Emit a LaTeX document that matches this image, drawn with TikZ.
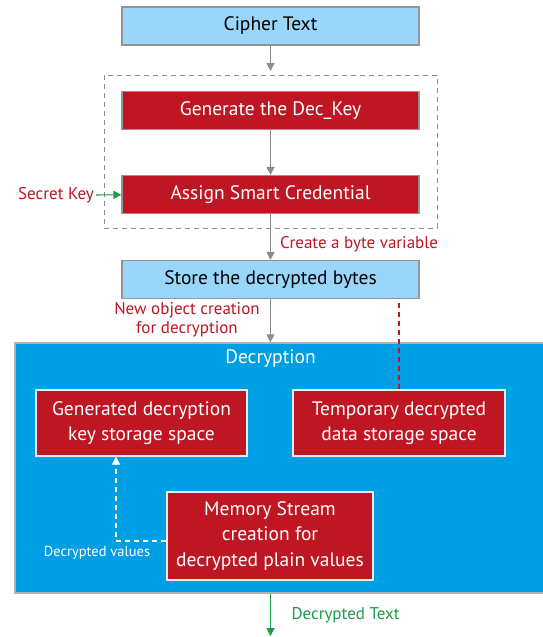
\documentclass[tikz,border=0pt]{standalone}
\usepackage{fontspec}
\setmainfont{PT Sans}
\usetikzlibrary{calc,arrows.meta}

\definecolor{skyfill}{HTML}{99D6FA}
\definecolor{keyred}{HTML}{BE1622}
\definecolor{decblue}{HTML}{009FE3}
\definecolor{flowgreen}{HTML}{1B9A4A}

\tikzset{
	skybox/.style={draw=black!42, fill=skyfill, line width=1.2pt, minimum width=297pt, minimum height=38pt, inner sep=0pt, font=\fontsize{19.5}{23}\selectfont},
	redbox/.style={skybox, fill=keyred, text=white},
	storebox/.style={draw=black!8, fill=keyred, text=white, line width=1.2pt, align=center, inner sep=0pt, font=\fontsize{19.5}{25.5}\selectfont},
	flow/.style={draw=black!45, line width=1.2pt, -{Triangle[length=8pt,width=8pt]}},
	redlabel/.style={text=keyred, font=\fontsize{17}{19}\selectfont, inner sep=2pt},
}

\begin{document}
\begin{tikzpicture}[x=1pt, y=-1pt]
		%%%%% START %%%%%
		\useasboundingbox (0,0) rectangle (543,637);
		
		\node[skybox] (cipher) at (270.5, 26) {Cipher Text};
		\draw[line width=1pt, color=black!45, dash pattern=on 5pt off 4pt] (104, 75) rectangle (437, 228);
		\node[redbox] (gen) at (270.5, 110.5) {Generate the Dec\_Key};
		\node[redbox] (assign) at (270.5, 194.5) {Assign Smart Credential};
		\node[skybox] (store) at (270.5, 279.5) {Store the decrypted bytes};
		
		\draw[flow] (cipher) -- (cipher.south |- 0, 71);
		\draw[flow] (gen) -- (assign);
		\draw[flow] (assign) -- (store);
		
		\node[redlabel, anchor=east] (secret) at (96, 195) {Secret Key};
		\draw[line width=1.2pt, color=flowgreen, -{Triangle[length=8pt,width=8pt]}] (secret) -- (assign);
		\node[redlabel, anchor=west] (bytevar) at (278, 244) {Create a byte variable};
		\node[redlabel, align=center] (newobj) at (187, 320) {New object creation\\for decryption};
		
		% decryption area
		\node[draw=black!30, fill=decblue, line width=1.2pt, minimum width=545pt, minimum height=250pt] (dec) at (287.5, 468) {};
		\node[text=white, font=\fontsize{19.5}{23}\selectfont] (dectitle) at (270.5, 359) {Decryption};
		\draw[flow] (store) -- (store.south |- dec.north);
		
		\node[storebox, minimum width=211pt, minimum height=66pt] (genkey) at (141.5, 423) {Generated decryption\\key storage space};
		\node[storebox, minimum width=212pt, minimum height=66pt] (temp) at (399, 423) {Temporary decrypted\\data storage space};
		\node[storebox, minimum width=206pt, minimum height=88pt] (memory) at (270, 536) {Memory Stream\\creation for\\decrypted plain values};
		
		\draw[line width=1.2pt, color=keyred, dash pattern=on 5pt off 4pt] (temp) -- (temp.north |- 0, 303);
		\draw[line width=1.2pt, color=white, dash pattern=on 5pt off 4pt, -{Triangle[length=8pt,width=8pt]}] ($(memory.west)+(0,5)$) -| ($(genkey.south)+(-25.5,0)$);
		\node[text=white, font=\fontsize{14.5}{17}\selectfont] (declabel) at (97, 553) {Decrypted values};
		
		\coordinate (plain) at (270.5, 636);
		\draw[line width=1.2pt, color=flowgreen, -{Triangle[length=8pt,width=8pt]}] (store.south |- dec.south) -- (plain);
		\node[text=flowgreen, font=\fontsize{17}{19}\selectfont, anchor=west] (dectext) at (288, 615) {Decrypted Text};
		
		%%%%% END %%%%%
	\end{tikzpicture}
\end{document}
